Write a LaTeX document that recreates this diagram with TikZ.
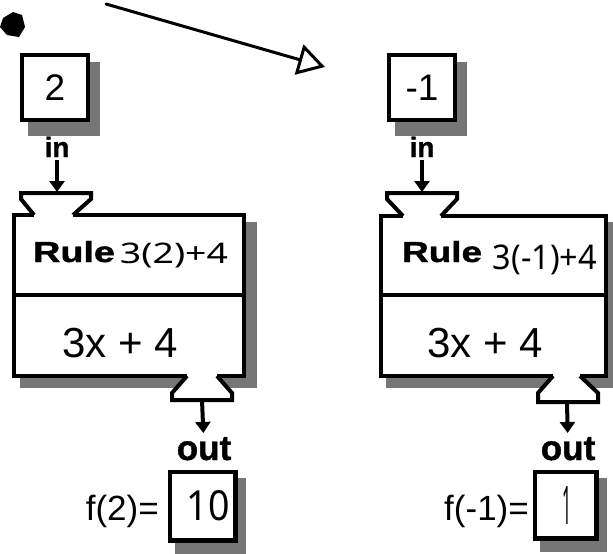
\documentclass[tikz,border=0pt]{standalone}
\usepackage{fontspec}
\setmainfont{Liberation Sans}
\newfontfamily\heavy{Liberation Sans Bold}[FakeBold=1.2]
\newfontfamily\hand{Noto Sans}
\usetikzlibrary{arrows.meta}
\definecolor{shadowgray}{RGB}{118,118,118}
\tikzset{
  shadefill/.style={fill=shadowgray, draw=none},
  mline/.style={line width=4pt, line join=miter},
  valbox/.style={draw, line width=4.5pt, fill=white, inner sep=0pt},
  inarr/.style={line width=4pt, -{Triangle[length=11pt,width=15pt]}},
  inlab/.style={inner sep=0pt, font=\heavy\fontsize{28}{30}\selectfont},
  outlab/.style={inner sep=0pt, font=\heavy\fontsize{35}{38}\selectfont},
  eqlab/.style={inner sep=0pt, font=\fontsize{35}{38}\selectfont},
  exprlab/.style={inner sep=0pt, font=\fontsize{42}{46}\selectfont},
  handlab/.style={inner sep=0pt},
}
\begin{document}
\begin{tikzpicture}[x=1pt,y=-1pt]
\fill[white] (0,0) rectangle (613,554);
\useasboundingbox (0,0) rectangle (613,554);

% ink blot
\fill[black] (3,18) -- (13,12) -- (22,15) -- (25,27) -- (19,37) -- (7,35) -- (0,27) -- cycle;

% big hand-drawn arrow
\coordinate (arrS) at (106,4);
\coordinate (arrE) at (325,67);
\draw[line width=3pt, line cap=round, -{Triangle[open,length=27pt,width=31pt,line width=3pt]}] (arrS) -- (arrE);

% ================= LEFT MACHINE =================
\fill[shadefill] (88,62) rectangle (100,136);
\fill[shadefill] (28,120) rectangle (100,136);
\fill[shadefill] (244,222) rectangle (257,388);
\fill[shadefill] (20,376) rectangle (257,388);
\fill[shadefill] (235,478) rectangle (246,550);
\fill[shadefill] (175,540) rectangle (246,554);

\node[valbox, minimum width=66pt, minimum height=65pt, font=\fontsize{37}{40}\selectfont] (inL) at (55,87.5) {2};
\node[inlab, anchor=base] (inlblL) at (57,157) {in};
\coordinate (funL) at (57,193);
\draw[inarr, shorten <=3pt, shorten >=1pt] (inlblL) -- (funL);

\draw[mline] (34,215) -- (14,215) -- (14,376) -- (187,376);
\draw[mline] (217,376) -- (244,376) -- (244,215) -- (73,215);
\draw[mline] (14,295) -- (244,295);
\draw[mline] (34,215) -- (21,199) -- (21,193) -- (91,193) -- (91,199) -- (73,215);
\draw[mline, fill=white] (187,376) -- (172,393) -- (172,400) -- (232,400) -- (232,393) -- (217,376);
\coordinate (bfunL) at (202,400);

\node[anchor=base west, inner sep=0pt] (ruleL) at (33,262) {\scalebox{1.3}[1]{\heavy\fontsize{29}{34}\selectfont Rule}};
\node[handlab] (handL) at (174,255.5) {\resizebox*{108pt}{25pt}{\hand 3(2)+4}};
\node[exprlab, anchor=base] (exprL) at (120,357) {3x + 4};

\node[outlab, anchor=base] (outlblL) at (204,460) {out};
\draw[inarr, shorten >=4pt] (bfunL) -- (outlblL);
\node[valbox, minimum width=65.5pt, minimum height=68.5pt] (outL) at (202.5,506) {\hspace{12pt}\resizebox{43pt}{30pt}{\hand 10}};
\node[eqlab, anchor=base east] (fL) at (159,520) {f(2)=};

% ================= RIGHT MACHINE =================
\fill[shadefill] (455,62) rectangle (467,136);
\fill[shadefill] (395,120) rectangle (467,136);
\fill[shadefill] (606,222) rectangle (613,388);
\fill[shadefill] (386,376) rectangle (613,388);
\fill[shadefill] (596,478) rectangle (607,550);
\fill[shadefill] (540,538) rectangle (607,552);

\node[valbox, minimum width=66pt, minimum height=65pt, font=\fontsize{37}{40}\selectfont] (inR) at (422,87.5) {-1\hspace{19pt}};
\node[inlab, anchor=base] (inlblR) at (422,157) {in};
\coordinate (funR) at (422,193);
\draw[inarr, shorten <=3pt, shorten >=1pt] (inlblR) -- (funR);

\draw[mline] (403,216) -- (381,216) -- (381,376) -- (553,376);
\draw[mline] (580,376) -- (606,376) -- (606,216) -- (441,216);
\draw[mline] (381,295) -- (606,295);
\draw[mline] (403,216) -- (387,199) -- (387,193) -- (457,193) -- (457,199) -- (441,216);
\draw[mline, fill=white] (553,376) -- (538,393) -- (538,402) -- (598,402) -- (598,393) -- (580,376);
\coordinate (bfunR) at (567,402);

\node[anchor=base west, inner sep=0pt] (ruleR) at (402,262) {\scalebox{1.27}[1]{\heavy\fontsize{29}{34}\selectfont Rule}};
\node[handlab] (handR) at (545,260) {\resizebox*{104pt}{30pt}{\hand 3(-1)+4}};
\node[exprlab, anchor=base] (exprR) at (485,357) {3x + 4};

\node[outlab, anchor=base] (outlblR) at (568,460) {out};
\draw[inarr, shorten >=4pt] (bfunR) -- (outlblR);
\node[valbox, minimum width=61.5pt, minimum height=66.5pt] (outR) at (565.5,505) {\hspace{3pt}\resizebox{9pt}{38pt}{\hand 1}};
\node[eqlab, anchor=base east] (fR) at (529,520) {f(-1)=};
\end{tikzpicture}
\end{document}
